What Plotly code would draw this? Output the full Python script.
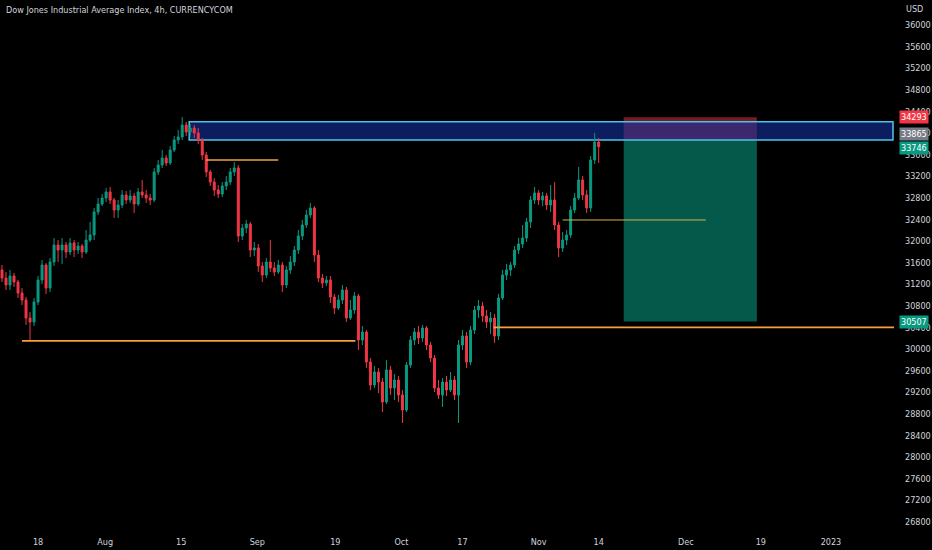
import plotly.graph_objects as go

# 4h candles, Dow Jones (CURRENCYCOM), mid Jul -> mid Nov 2022
opens = [31463, 31314, 31185, 31351, 31240, 31037, 30907, 30574, 30500, 30870,
         31277, 31555, 31129, 31611, 31926, 31833, 31926, 31796, 31963, 31833,
         31907, 31796, 32018, 32111, 32537, 32685, 32796, 32907, 32759, 32574,
         32667, 32852, 32759, 32833, 32685, 32907, 32852, 32796, 32759, 33278,
         33407, 33537, 33444, 33685, 33870, 33926, 34148, 34018, 34093, 34000,
         33870, 33592, 33278, 33092, 32944, 32870, 33018, 33092, 33278, 33352,
         32092, 32241, 32315, 31833, 31870, 31537, 31370, 31611, 31500, 31426,
         31555, 31185, 31463, 31611, 31833, 32092, 32296, 32481, 32611, 31740,
         31314, 31222, 31277, 30963, 30759, 30907, 31092, 30574, 30722, 30981,
         30166, 30314, 29759, 29333, 29574, 29388, 29018, 29611, 29277, 29425,
         29148, 28870, 29703, 30166, 30314, 30203, 30389, 30074, 29833, 29277,
         29148, 29388, 29240, 29425, 29148, 30074, 30240, 29759, 30351, 30722,
         30796, 30611, 30500, 30574, 30240, 30944, 31370, 31463, 31555, 31833,
         31944, 32055, 32352, 32759, 32889, 32759, 32833, 32667, 32759, 32296,
         31870, 32018, 32111, 32574, 32796, 33130, 32852, 32611, 33500, 33833]
closes = [31314, 31185, 31351, 31240, 31037, 30907, 30574, 30500, 30870, 31277,
          31555, 31129, 31611, 31926, 31833, 31926, 31796, 31963, 31833, 31907,
          31796, 32018, 32111, 32537, 32685, 32796, 32907, 32759, 32574, 32667,
          32852, 32759, 32833, 32685, 32907, 32852, 32796, 32759, 33278, 33407,
          33537, 33444, 33685, 33870, 33926, 34148, 34018, 34093, 34000, 33870,
          33592, 33278, 33092, 32944, 32870, 33018, 33092, 33278, 33352, 32092,
          32241, 32315, 31833, 31870, 31537, 31370, 31611, 31500, 31426, 31555,
          31185, 31463, 31611, 31833, 32092, 32296, 32481, 32611, 31740, 31314,
          31222, 31277, 30963, 30759, 30907, 31092, 30574, 30722, 30981, 30166,
          30314, 29759, 29333, 29574, 29388, 29018, 29611, 29277, 29425, 29148,
          28870, 29703, 30166, 30314, 30203, 30389, 30074, 29833, 29277, 29148,
          29388, 29240, 29425, 29148, 30074, 30240, 29759, 30351, 30722, 30796,
          30611, 30500, 30574, 30240, 30944, 31370, 31463, 31555, 31833, 31944,
          32055, 32352, 32759, 32889, 32759, 32833, 32667, 32759, 32296, 31870,
          32018, 32111, 32574, 32796, 33130, 32852, 32611, 33500, 33833, 33746]
highs = [31555, 31426, 31463, 31407, 31277, 31129, 30963, 30685, 30944, 31351,
         31648, 31592, 31685, 32055, 32018, 32055, 31981, 32055, 32018, 31981,
         31944, 32203, 32352, 32611, 32796, 32870, 32981, 33000, 32796, 32759,
         32944, 32926, 32944, 32889, 32981, 33130, 32944, 32870, 33352, 33500,
         33685, 33592, 33759, 33944, 34056, 34296, 34204, 34167, 34148, 34093,
         33907, 33648, 33315, 33167, 33037, 33092, 33203, 33352, 33463, 33407,
         32315, 32389, 32352, 31981, 31944, 31611, 31685, 32018, 31611, 31648,
         31611, 31537, 31722, 31907, 32203, 32389, 32574, 32704, 32648, 31833,
         31389, 31351, 31351, 31018, 31000, 31185, 31148, 30907, 31055, 31018,
         30425, 30351, 29833, 29685, 29648, 29462, 29796, 29685, 29537, 29500,
         29240, 29759, 30240, 30389, 30425, 30444, 30425, 30129, 29889, 29425,
         29462, 29500, 29574, 29500, 30166, 30351, 30314, 30425, 30796, 30907,
         30870, 30722, 30685, 30648, 31018, 31463, 31574, 31611, 31907, 32055,
         32296, 32426, 32833, 33000, 32944, 32907, 32889, 33037, 33092, 32352,
         32166, 32203, 32648, 32889, 33370, 33203, 32944, 33574, 34000, 33907]
lows = [31240, 31092, 31092, 31148, 30944, 30814, 30444, 30166, 30425, 30814,
        31203, 31018, 31055, 31537, 31611, 31574, 31685, 31740, 31703, 31759,
        31685, 31759, 31981, 32018, 32481, 32648, 32722, 32685, 32426, 32426,
        32611, 32685, 32704, 32518, 32648, 32796, 32704, 32667, 32722, 33222,
        33352, 33389, 33407, 33648, 33796, 33870, 33944, 33926, 33907, 33796,
        33500, 33185, 33018, 32833, 32796, 32815, 32944, 33037, 33203, 31981,
        32018, 32148, 31703, 31722, 31426, 31240, 31314, 31426, 31351, 31389,
        31055, 31129, 31389, 31537, 31759, 32018, 32241, 32426, 31611, 31240,
        31129, 31166, 30851, 30648, 30722, 30833, 30500, 30537, 30648, 29981,
        30074, 29648, 29240, 29277, 29185, 28833, 28981, 29148, 29055, 29018,
        28629, 28833, 29648, 30074, 30092, 30129, 29981, 29759, 29203, 29074,
        28925, 29129, 29203, 29055, 28629, 29981, 29648, 29703, 30277, 30574,
        30500, 30389, 30277, 30111, 30166, 30907, 31277, 31351, 31500, 31759,
        31870, 31981, 32241, 32685, 32667, 32648, 32574, 32537, 32203, 31703,
        31796, 31926, 32055, 32518, 32759, 32759, 32518, 32537, 33426, 33444]
bars = list(range(len(closes)))

# date labels on the bar axis (bar index where each date starts)
date_bars = [9, 25.75, 44.75, 63.75, 83.25, 99.75, 115, 134, 149, 170.75, 189.5, 207]
date_labels = ["18", "Aug", "15", "Sep", "19", "Oct", "17", "Nov", "14", "Dec", "19", "2023"]
price_ticks = list(range(26800, 36400, 400))

# drawings
zone_lo, zone_hi, zone_start = 33870, 34210, 46.75
entry, stop, target = 33865, 34293, 30507
pos_start, pos_end = 155.25, 188.5
last_price = 33746
levels = [(30150, 5, 88.25), (33500, 51, 69)]
level_minor = (32389, 140, 175.75)
level_open = (30400, 122.75)

bg = "#000000"
txt = "#d1d4dc"
up, down = "#089981", "#f23645"
orange = "#f7a13c"
font = "Liberation Sans Narrow, DejaVu Sans Condensed, Arial Narrow, sans-serif"

fig = go.Figure(go.Candlestick(
    x=bars, open=opens, high=highs, low=lows, close=closes,
    increasing=dict(line=dict(color=up, width=1), fillcolor=up),
    decreasing=dict(line=dict(color=down, width=1), fillcolor=down),
    whiskerwidth=0, showlegend=False, hoverinfo="skip"))

shapes = []
# short position: stop (red) and target (green)
shapes.append(dict(type="rect", xref="x", yref="y", x0=pos_start, x1=pos_end,
                   y0=entry, y1=stop, fillcolor="rgba(242,54,69,0.5)", line_width=0, layer="below"))
shapes.append(dict(type="rect", xref="x", yref="y", x0=pos_start, x1=pos_end,
                   y0=target, y1=entry, fillcolor="rgba(8,153,129,0.58)", line_width=0, layer="below"))
# supply zone
shapes.append(dict(type="rect", xref="x", yref="y", x0=zone_start, x1=222.5,
                   y0=zone_lo, y1=zone_hi, fillcolor="rgba(20,50,160,0.6)",
                   line=dict(color="#4fc3e8", width=1.5), layer="below"))
for p, a, b in levels:
    shapes.append(dict(type="line", xref="x", yref="y", x0=a, x1=b, y0=p, y1=p,
                       line=dict(color=orange, width=1.6)))
shapes.append(dict(type="line", xref="x", yref="y", x0=level_minor[1], x1=level_minor[2],
                   y0=level_minor[0], y1=level_minor[0], line=dict(color="#d9b24a", width=1)))
shapes.append(dict(type="line", xref="x", yref="y", x0=level_open[1], x1=223,
                   y0=level_open[0], y1=level_open[0], line=dict(color=orange, width=1.6)))

annotations = [
    dict(text="Dow Jones Industrial Average Index, 4h, CURRENCYCOM", xref="paper", yref="paper",
         x=0, y=1, xanchor="left", yanchor="top", xshift=4, yshift=-3, showarrow=False,
         font=dict(size=9, color=txt, family=font)),
    dict(text="USD", xref="paper", yref="paper", x=1, y=1, xanchor="left", yanchor="top",
         xshift=10, yshift=-2, showarrow=False, font=dict(size=9, color=txt, family=font)),
]
tags = [(stop, down, 0), (entry, "#787b86", 6), (last_price, up, -1), (target, up, 0)]
for p, c, dy in tags:
    annotations.append(dict(text=str(p), xref="paper", yref="y", x=1, y=p, xanchor="left",
                            xshift=5, yshift=dy, showarrow=False, bgcolor=c, borderpad=1,
                            font=dict(size=9, color="#ffffff", family=font)))

fig.update_layout(
    width=932, height=550,
    margin=dict(l=0, r=38, t=0, b=15),
    paper_bgcolor=bg, plot_bgcolor=bg,
    shapes=shapes, annotations=annotations,
    xaxis=dict(range=[-0.5, 222.75], tickmode="array", tickvals=date_bars, ticktext=date_labels,
               showgrid=False, zeroline=False, showline=False, ticks="",
               rangeslider=dict(visible=False), tickfont=dict(size=9, color=txt, family=font)),
    yaxis=dict(side="right", range=[26555, 36463], tickmode="array", tickvals=price_ticks,
               tickformat="d", showgrid=False, zeroline=False, showline=False, ticks="",
               ticklabelstandoff=10, tickfont=dict(size=9, color=txt, family=font)),
)

fig.write_html("out.html", config={"displayModeBar": False},
               post_script="document.body.style.margin='0';document.body.style.background='#000';")
